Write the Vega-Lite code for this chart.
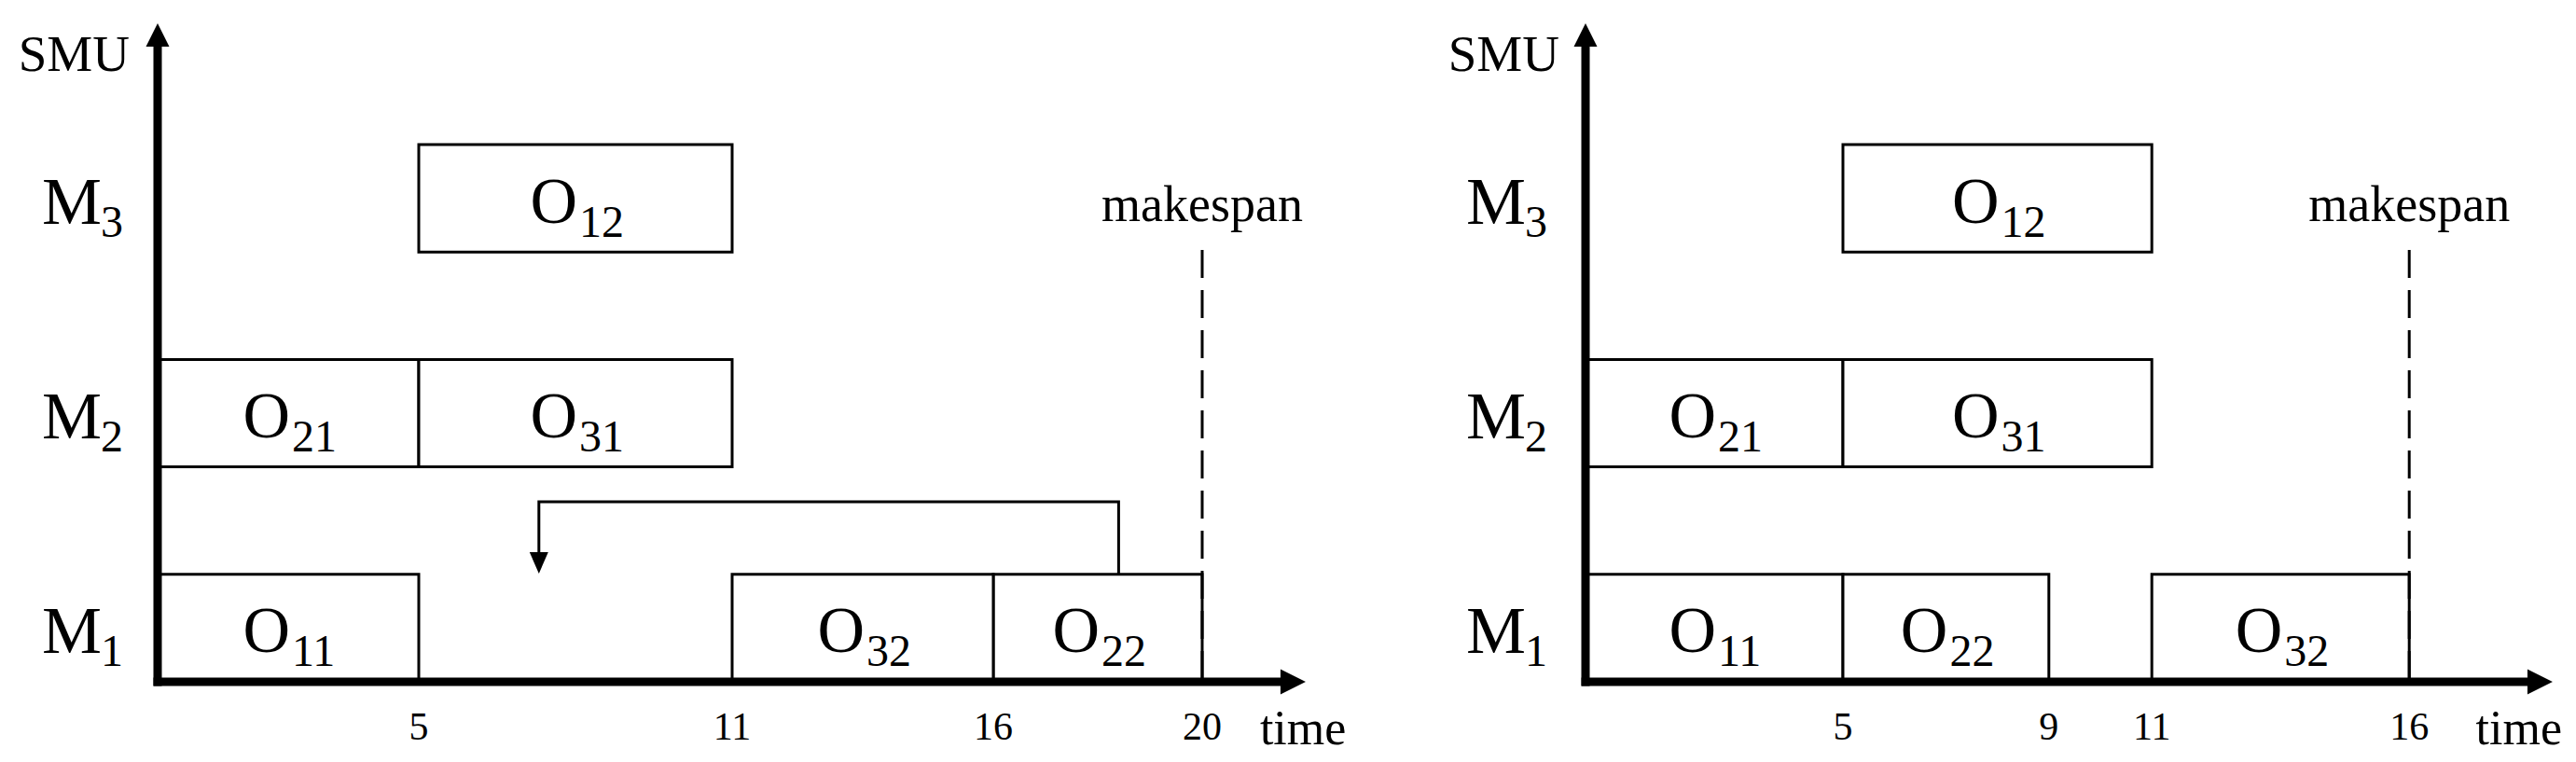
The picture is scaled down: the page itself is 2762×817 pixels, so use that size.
{
  "$schema": "https://vega.github.io/schema/vega-lite/v6.json",
  "padding": 0,
  "spacing": 0,
  "bounds": "flush",
  "background": "white",
  "config": {"view": {"stroke": null}, "text": {"font": "Liberation Serif", "color": "black"}},
  "datasets": {
    "opsA": [
      {"machine": "M1", "op": "O", "sub": "11", "start": 0, "end": 5},
      {"machine": "M3", "op": "O", "sub": "12", "start": 5, "end": 11},
      {"machine": "M2", "op": "O", "sub": "21", "start": 0, "end": 5},
      {"machine": "M1", "op": "O", "sub": "22", "start": 16, "end": 20},
      {"machine": "M2", "op": "O", "sub": "31", "start": 5, "end": 11},
      {"machine": "M1", "op": "O", "sub": "32", "start": 11, "end": 16}
    ],
    "opsB": [
      {"machine": "M1", "op": "O", "sub": "11", "start": 0, "end": 5},
      {"machine": "M3", "op": "O", "sub": "12", "start": 5, "end": 11},
      {"machine": "M2", "op": "O", "sub": "21", "start": 0, "end": 5},
      {"machine": "M1", "op": "O", "sub": "22", "start": 5, "end": 9},
      {"machine": "M2", "op": "O", "sub": "31", "start": 5, "end": 11},
      {"machine": "M1", "op": "O", "sub": "32", "start": 11, "end": 16}
    ],
    "machines": [
      {"machine": "M1", "letter": "M", "sub": "1"},
      {"machine": "M2", "letter": "M", "sub": "2"},
      {"machine": "M3", "letter": "M", "sub": "3"}
    ],
    "ticksA": [{"t": 5}, {"t": 11}, {"t": 16}, {"t": 20}],
    "ticksB": [{"t": 5}, {"t": 9}, {"t": 11}, {"t": 16}],
    "spanA": [{"makespan": 20}],
    "spanB": [{"makespan": 16}],
    "feedbackA": [
      {"t": 18.4, "y": 1.0, "k": 0},
      {"t": 18.4, "y": 1.675, "k": 1},
      {"t": 7.3, "y": 1.675, "k": 2},
      {"t": 7.3, "y": 1.19, "k": 3}
    ]
  },
  "hconcat": [
    {
      "width": 1480,
      "height": 817,
      "resolve": {"scale": {"y": "independent"}},
      "layer": [
        {
          "layer": [
            {
              "data": {"name": "opsA"},
              "mark": {"type": "rect", "fill": "white", "stroke": "black", "strokeWidth": 3},
              "encoding": {
                "x": {"field": "start", "type": "quantitative", "scale": {"domain": [-3.0179, 23.4107], "nice": false, "zero": false}, "axis": null},
                "x2": {"field": "end"},
                "y": {"field": "machine", "type": "nominal", "scale": {"type": "band", "domain": ["M3", "M2", "M1"], "paddingInner": 0.5, "paddingOuter": 0.523, "align": 0.6432}, "axis": null}
              }
            },
            {
              "data": {"name": "opsA"},
              "transform": [{"calculate": "(datum.start + datum.end) / 2", "as": "mid"}],
              "mark": {"type": "text", "fontSize": 70, "align": "right", "baseline": "alphabetic", "dx": 2, "dy": 26},
              "encoding": {
                "x": {"field": "mid", "type": "quantitative", "axis": null},
                "y": {"field": "machine", "type": "nominal", "bandPosition": 0.5, "axis": null},
                "text": {"field": "op"}
              }
            },
            {
              "data": {"name": "opsA"},
              "transform": [{"calculate": "(datum.start + datum.end) / 2", "as": "mid"}],
              "mark": {"type": "text", "fontSize": 48, "align": "left", "baseline": "alphabetic", "dx": 4, "dy": 41},
              "encoding": {
                "x": {"field": "mid", "type": "quantitative", "axis": null},
                "y": {"field": "machine", "type": "nominal", "bandPosition": 0.5, "axis": null},
                "text": {"field": "sub"}
              }
            },
            {
              "data": {"name": "machines"},
              "mark": {"type": "text", "fontSize": 72, "align": "right", "baseline": "alphabetic", "dx": -60, "dy": 27},
              "encoding": {
                "x": {"datum": 0, "type": "quantitative", "axis": null},
                "y": {"field": "machine", "type": "nominal", "bandPosition": 0.5, "axis": null},
                "text": {"field": "letter"}
              }
            },
            {
              "data": {"name": "machines"},
              "mark": {"type": "text", "fontSize": 48, "align": "left", "baseline": "alphabetic", "dx": -61, "dy": 41},
              "encoding": {
                "x": {"datum": 0, "type": "quantitative", "axis": null},
                "y": {"field": "machine", "type": "nominal", "bandPosition": 0.5, "axis": null},
                "text": {"field": "sub"}
              }
            }
          ]
        },
        {
          "layer": [
            {
              "data": {"name": "feedbackA"},
              "mark": {"type": "line", "color": "black", "strokeWidth": 3, "strokeCap": "butt"},
              "encoding": {
                "x": {"field": "t", "type": "quantitative", "axis": null},
                "y": {"field": "y", "type": "quantitative", "scale": {"domain": [-0.7465, 6.3455], "nice": false, "zero": false}, "axis": null},
                "order": {"field": "k"}
              }
            },
            {
              "data": {"values": [{}]},
              "mark": {"type": "point", "filled": true, "color": "black", "opacity": 1, "strokeWidth": 0, "size": 400, "shape": "M0,1.15L1,-1.15L-1,-1.15Z"},
              "encoding": {
                "x": {"datum": 7.3, "type": "quantitative", "axis": null},
                "y": {"datum": 1.107, "type": "quantitative", "axis": null}
              }
            },
            {
              "data": {"name": "spanA"},
              "mark": {"type": "rule", "color": "black", "strokeWidth": 3, "strokeDash": [30, 13]},
              "encoding": {
                "x": {"field": "makespan", "type": "quantitative", "axis": null},
                "y": {"datum": 4.02, "type": "quantitative", "axis": null},
                "y2": {"datum": 0}
              }
            },
            {
              "data": {"name": "spanA"},
              "mark": {"type": "text", "fontSize": 54, "align": "center", "baseline": "alphabetic"},
              "encoding": {
                "x": {"field": "makespan", "type": "quantitative", "axis": null},
                "y": {"datum": 4.29, "type": "quantitative", "axis": null},
                "text": {"value": "makespan"}
              }
            },
            {
              "data": {"values": [{}]},
              "mark": {"type": "rule", "color": "black", "strokeWidth": 9, "strokeCap": "butt"},
              "encoding": {
                "x": {"datum": -0.08, "type": "quantitative", "axis": null},
                "x2": {"datum": 21.6},
                "y": {"datum": 0, "type": "quantitative", "axis": null}
              }
            },
            {
              "data": {"values": [{}]},
              "mark": {"type": "rule", "color": "black", "strokeWidth": 9, "strokeCap": "butt"},
              "encoding": {
                "x": {"datum": 0, "type": "quantitative", "axis": null},
                "y": {"datum": -0.04, "type": "quantitative", "axis": null},
                "y2": {"datum": 5.95}
              }
            },
            {
              "data": {"values": [{}]},
              "mark": {"type": "point", "filled": true, "color": "black", "opacity": 1, "strokeWidth": 0, "size": 729, "shape": "M1,0L-1,-1L-1,1Z"},
              "encoding": {
                "x": {"datum": 21.74, "type": "quantitative", "axis": null},
                "y": {"datum": 0, "type": "quantitative", "axis": null}
              }
            },
            {
              "data": {"values": [{}]},
              "mark": {"type": "point", "filled": true, "color": "black", "opacity": 1, "strokeWidth": 0, "size": 625, "shape": "M0,-1L1,1L-1,1Z"},
              "encoding": {
                "x": {"datum": 0, "type": "quantitative", "axis": null},
                "y": {"datum": 6.02, "type": "quantitative", "axis": null}
              }
            },
            {
              "data": {"name": "ticksA"},
              "mark": {"type": "text", "fontSize": 42, "align": "center", "baseline": "alphabetic"},
              "encoding": {
                "x": {"field": "t", "type": "quantitative", "axis": null},
                "y": {"datum": -0.538, "type": "quantitative", "axis": null},
                "text": {"field": "t", "type": "quantitative"}
              }
            },
            {
              "data": {"values": [{}]},
              "mark": {"type": "text", "fontSize": 52, "align": "center", "baseline": "alphabetic"},
              "encoding": {
                "x": {"datum": 21.93, "type": "quantitative", "axis": null},
                "y": {"datum": -0.582, "type": "quantitative", "axis": null},
                "text": {"value": "time"}
              }
            },
            {
              "data": {"values": [{}]},
              "mark": {"type": "text", "fontSize": 55, "align": "right", "baseline": "alphabetic", "dx": -30},
              "encoding": {
                "x": {"datum": 0, "type": "quantitative", "axis": null},
                "y": {"datum": 5.686, "type": "quantitative", "axis": null},
                "text": {"value": "SMU"}
              }
            }
          ]
        }
      ]
    },
    {
      "width": 1282,
      "height": 817,
      "resolve": {"scale": {"y": "independent"}},
      "layer": [
        {
          "layer": [
            {
              "data": {"name": "opsB"},
              "mark": {"type": "rect", "fill": "white", "stroke": "black", "strokeWidth": 3},
              "encoding": {
                "x": {"field": "start", "type": "quantitative", "scale": {"domain": [-3.9855, 19.2391], "nice": false, "zero": false}, "axis": null},
                "x2": {"field": "end"},
                "y": {"field": "machine", "type": "nominal", "scale": {"type": "band", "domain": ["M3", "M2", "M1"], "paddingInner": 0.5, "paddingOuter": 0.523, "align": 0.6432}, "axis": null}
              }
            },
            {
              "data": {"name": "opsB"},
              "transform": [{"calculate": "(datum.start + datum.end) / 2", "as": "mid"}],
              "mark": {"type": "text", "fontSize": 70, "align": "right", "baseline": "alphabetic", "dx": 2, "dy": 26},
              "encoding": {
                "x": {"field": "mid", "type": "quantitative", "axis": null},
                "y": {"field": "machine", "type": "nominal", "bandPosition": 0.5, "axis": null},
                "text": {"field": "op"}
              }
            },
            {
              "data": {"name": "opsB"},
              "transform": [{"calculate": "(datum.start + datum.end) / 2", "as": "mid"}],
              "mark": {"type": "text", "fontSize": 48, "align": "left", "baseline": "alphabetic", "dx": 4, "dy": 41},
              "encoding": {
                "x": {"field": "mid", "type": "quantitative", "axis": null},
                "y": {"field": "machine", "type": "nominal", "bandPosition": 0.5, "axis": null},
                "text": {"field": "sub"}
              }
            },
            {
              "data": {"name": "machines"},
              "mark": {"type": "text", "fontSize": 72, "align": "right", "baseline": "alphabetic", "dx": -64, "dy": 27},
              "encoding": {
                "x": {"datum": 0, "type": "quantitative", "axis": null},
                "y": {"field": "machine", "type": "nominal", "bandPosition": 0.5, "axis": null},
                "text": {"field": "letter"}
              }
            },
            {
              "data": {"name": "machines"},
              "mark": {"type": "text", "fontSize": 48, "align": "left", "baseline": "alphabetic", "dx": -65, "dy": 41},
              "encoding": {
                "x": {"datum": 0, "type": "quantitative", "axis": null},
                "y": {"field": "machine", "type": "nominal", "bandPosition": 0.5, "axis": null},
                "text": {"field": "sub"}
              }
            }
          ]
        },
        {
          "layer": [
            {
              "data": {"name": "spanB"},
              "mark": {"type": "rule", "color": "black", "strokeWidth": 3, "strokeDash": [30, 13]},
              "encoding": {
                "x": {"field": "makespan", "type": "quantitative", "axis": null},
                "y": {"datum": 4.02, "type": "quantitative", "scale": {"domain": [-0.7465, 6.3455], "nice": false, "zero": false}, "axis": null},
                "y2": {"datum": 0}
              }
            },
            {
              "data": {"name": "spanB"},
              "mark": {"type": "text", "fontSize": 54, "align": "center", "baseline": "alphabetic"},
              "encoding": {
                "x": {"field": "makespan", "type": "quantitative", "axis": null},
                "y": {"datum": 4.29, "type": "quantitative", "axis": null},
                "text": {"value": "makespan"}
              }
            },
            {
              "data": {"values": [{}]},
              "mark": {"type": "rule", "color": "black", "strokeWidth": 9, "strokeCap": "butt"},
              "encoding": {
                "x": {"datum": -0.08, "type": "quantitative", "axis": null},
                "x2": {"datum": 18.4},
                "y": {"datum": 0, "type": "quantitative", "axis": null}
              }
            },
            {
              "data": {"values": [{}]},
              "mark": {"type": "rule", "color": "black", "strokeWidth": 9, "strokeCap": "butt"},
              "encoding": {
                "x": {"datum": 0, "type": "quantitative", "axis": null},
                "y": {"datum": -0.04, "type": "quantitative", "axis": null},
                "y2": {"datum": 5.95}
              }
            },
            {
              "data": {"values": [{}]},
              "mark": {"type": "point", "filled": true, "color": "black", "opacity": 1, "strokeWidth": 0, "size": 729, "shape": "M1,0L-1,-1L-1,1Z"},
              "encoding": {
                "x": {"datum": 18.54, "type": "quantitative", "axis": null},
                "y": {"datum": 0, "type": "quantitative", "axis": null}
              }
            },
            {
              "data": {"values": [{}]},
              "mark": {"type": "point", "filled": true, "color": "black", "opacity": 1, "strokeWidth": 0, "size": 625, "shape": "M0,-1L1,1L-1,1Z"},
              "encoding": {
                "x": {"datum": 0, "type": "quantitative", "axis": null},
                "y": {"datum": 6.02, "type": "quantitative", "axis": null}
              }
            },
            {
              "data": {"name": "ticksB"},
              "mark": {"type": "text", "fontSize": 42, "align": "center", "baseline": "alphabetic"},
              "encoding": {
                "x": {"field": "t", "type": "quantitative", "axis": null},
                "y": {"datum": -0.538, "type": "quantitative", "axis": null},
                "text": {"field": "t", "type": "quantitative"}
              }
            },
            {
              "data": {"values": [{}]},
              "mark": {"type": "text", "fontSize": 52, "align": "center", "baseline": "alphabetic"},
              "encoding": {
                "x": {"datum": 18.13, "type": "quantitative", "axis": null},
                "y": {"datum": -0.582, "type": "quantitative", "axis": null},
                "text": {"value": "time"}
              }
            },
            {
              "data": {"values": [{}]},
              "mark": {"type": "text", "fontSize": 55, "align": "right", "baseline": "alphabetic", "dx": -28},
              "encoding": {
                "x": {"datum": 0, "type": "quantitative", "axis": null},
                "y": {"datum": 5.686, "type": "quantitative", "axis": null},
                "text": {"value": "SMU"}
              }
            }
          ]
        }
      ]
    }
  ]
}
